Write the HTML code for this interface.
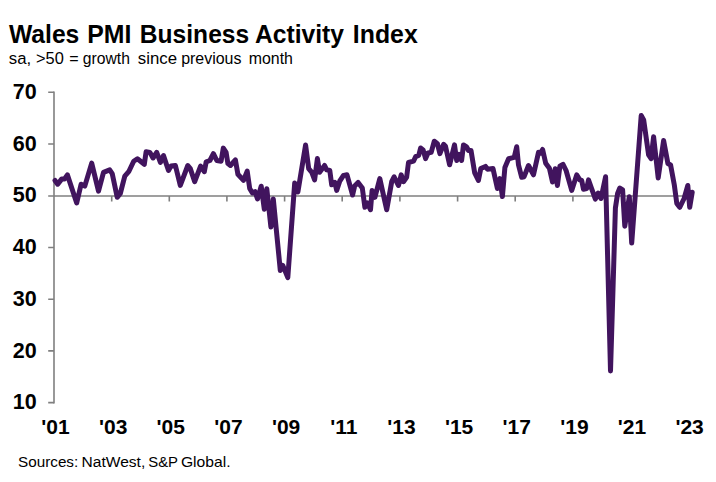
<!DOCTYPE html>
<html><head><meta charset="utf-8">
<style>
html,body{margin:0;padding:0;background:#fff;}
body{width:716px;height:482px;overflow:hidden;position:relative;font-family:"Liberation Sans",sans-serif;color:#000;}
svg{position:absolute;left:0;top:0;}
text{font-family:"Liberation Sans",sans-serif;fill:#000;}
.ya{font-weight:bold;font-size:21.5px;text-anchor:end;}
.xa{font-weight:bold;font-size:21px;text-anchor:middle;}
</style></head><body>
<svg width="716" height="482" viewBox="0 0 716 482">
<g id="title"><text transform="translate(8.95 43.1) scale(0.9495 0.97)" font-size="26" font-weight="bold">Wales</text>
<text transform="translate(87.25 43.1) scale(0.9545 0.97)" font-size="26" font-weight="bold">PMI</text>
<text transform="translate(139.87 43.1) scale(0.9456 0.97)" font-size="26" font-weight="bold">Business</text>
<text transform="translate(254.94 43.1) scale(0.9490 0.97)" font-size="26" font-weight="bold">Activity</text>
<text transform="translate(352.85 43.1) scale(0.9554 0.97)" font-size="26" font-weight="bold">Index</text></g>
<g id="sub"><text transform="translate(8.77 63.9) scale(0.9871 0.96)" font-size="17" font-weight="normal">sa,</text>
<text transform="translate(36.03 63.9) scale(0.9657 0.96)" font-size="17" font-weight="normal">&gt;50</text>
<text transform="translate(69.25 63.9) scale(0.9462 0.96)" font-size="17" font-weight="normal">=</text>
<text transform="translate(82.82 63.9) scale(0.9236 0.96)" font-size="17" font-weight="normal">growth</text>
<text transform="translate(137.87 63.9) scale(0.9895 0.96)" font-size="17" font-weight="normal">since</text>
<text transform="translate(181.14 63.9) scale(0.9394 0.96)" font-size="17" font-weight="normal">previous</text>
<text transform="translate(248.74 63.9) scale(0.9357 0.96)" font-size="17" font-weight="normal">month</text></g>
<g stroke="#7f7f7f" stroke-width="1.6" fill="none">
<path d="M54 91.5V403.4"/>
<path d="M48.2 92.30H54M48.2 144.02H54M48.2 247.46H54M48.2 299.18H54M48.2 350.90H54M48.2 402.62H54"/>
<path d="M48.2 196H693"/>
<path d="M111.7 196V201.6M169.3 196V201.6M226.9 196V201.6M284.6 196V201.6M342.2 196V201.6M399.9 196V201.6M457.6 196V201.6M515.2 196V201.6M572.9 196V201.6M630.5 196V201.6M688.1 196V201.6"/>
</g>
<g class="ya"><text x="36.6" y="98.9">70</text>
<text x="36.6" y="150.6">60</text>
<text x="36.6" y="202.3">50</text>
<text x="36.6" y="254.1">40</text>
<text x="36.6" y="305.8">30</text>
<text x="36.6" y="357.5">20</text>
<text x="36.6" y="409.2">10</text></g>
<g class="xa"><text x="55.5" y="434.3">'01</text>
<text x="113.2" y="434.3">'03</text>
<text x="170.8" y="434.3">'05</text>
<text x="228.4" y="434.3">'07</text>
<text x="286.1" y="434.3">'09</text>
<text x="343.8" y="434.3">'11</text>
<text x="401.4" y="434.3">'13</text>
<text x="459.1" y="434.3">'15</text>
<text x="516.7" y="434.3">'17</text>
<text x="574.4" y="434.3">'19</text>
<text x="632.0" y="434.3">'21</text>
<text x="689.6" y="434.3">'23</text></g>
<path id="line" d="M55 180.5 L57.7 184.2 L61.8 178.9 L64.5 179 L67.4 174.9 L76.7 203 L81.1 184.2 L84.8 186.1 L91.7 163.1 L98.5 191.1 L103.5 172.4 L109.7 169.9 L112.2 173.6 L117.2 197.3 L120.3 193.5 L124.8 176.1 L128.7 171.7 L133.7 161.2 L137.4 158.7 L144.3 164.3 L146.1 151.8 L149.9 152.4 L153 158 L156.7 152.4 L160.4 162.4 L163.5 155.6 L168.5 170.5 L171 166.1 L175.4 165.5 L180.3 185.4 L187.8 165.5 L190.3 168.6 L194.7 181.7 L200.6 166.1 L204.3 171.7 L206.2 161.8 L209.9 160.5 L213.4 153.7 L216.8 160.5 L221.1 161.2 L223.3 148.1 L226.1 152.4 L227.9 163.6 L230.4 165.5 L235.4 159.9 L237.9 174.2 L243.5 180.4 L247.2 171.1 L249.7 188.5 L252.4 193 L255 191.7 L257.5 199 L261.2 186.2 L264.3 209.2 L266.8 188.7 L270.9 227 L273.3 199 L280.3 270.4 L282.8 265.4 L287.8 277.6 L294.7 183 L297.9 191.8 L305.6 145 L308.7 168.6 L311.8 172.3 L314.6 179.8 L317.4 158.6 L319.6 172.3 L324.6 165.5 L326.7 169.8 L329.8 170.5 L331.7 184.8 L334.8 182.3 L336.7 190.4 L339.8 181 L343.5 175.4 L347 174.8 L352.6 195 L354.7 186 L358.1 182.4 L362.3 188 L364.9 207.3 L367.4 202.9 L370.5 209.7 L372.1 190.5 L374.9 197.3 L379.8 178.6 L386.7 209.7 L391.7 181.7 L394.1 176.8 L398.5 185.5 L401.2 174.9 L403.5 181.7 L406.6 177.4 L408.5 162.5 L413.5 161.2 L415.6 156.7 L418.7 155.5 L420.6 148 L423.1 149.9 L425.6 158.6 L428 153 L431.2 152.4 L434.3 141.2 L437.4 143.7 L439.9 153.6 L443.6 144.3 L445.5 146.2 L449.6 164.8 L454.5 144.9 L456.7 160.5 L459.1 154.3 L461.6 160.5 L463.5 144.9 L466.6 146.8 L468.5 150.5 L471 150.5 L474.7 172.9 L478.4 180.4 L480.8 168.6 L485.5 166.4 L487.4 169.2 L493 168.6 L497.4 188.5 L499.9 178.6 L502.4 196.6 L504.9 167.4 L508.6 158.7 L514.2 157.4 L516.7 146.8 L518.5 164.9 L521.7 177.3 L524.1 176.7 L528.5 165.5 L533.5 174.8 L538.5 152.4 L540.3 153.1 L542.6 149.5 L545.7 163.3 L549.4 168.3 L552.5 182 L555.2 168.7 L557.4 185.5 L559.9 166.2 L563 164.3 L566.1 170.5 L571.7 190.4 L576.7 174.9 L579.8 179.9 L581.7 180.5 L583.5 189.2 L586.7 188.6 L588.5 179.9 L591.6 188.6 L595.4 199.1 L598.1 193 L601 198.5 L605.6 176.8 L610.5 371 L613 289 L615.4 208 L617.6 193.5 L619.8 188 L622.6 189.9 L624.8 226.2 L629.3 196.7 L631.7 243 L641.2 115.6 L643.7 120 L648.6 154.8 L651.1 158.6 L653.6 136.7 L658.2 178 L663.6 140.5 L667.9 163.5 L670.6 165 L674.3 184.9 L676.8 203.5 L679.7 207.3 L684.1 198.5 L687.8 185.5 L689.7 207.3 L692.2 192.3" fill="none" stroke="#41145e" stroke-width="5" stroke-linejoin="round" stroke-linecap="round"/>
<g id="src" fill="#111"><text transform="translate(18.03 466.7) scale(1.0535 1.0)" font-size="14.5" font-weight="normal">Sources:</text>
<text transform="translate(81.59 466.7) scale(1.0733 1.0)" font-size="14.5" font-weight="normal">NatWest,</text>
<text transform="translate(148.26 466.7) scale(1.0271 1.0)" font-size="14.5" font-weight="normal">S&amp;P</text>
<text transform="translate(180.90 466.7) scale(1.0801 1.0)" font-size="14.5" font-weight="normal">Global.</text></g>
</svg>
</body></html>
